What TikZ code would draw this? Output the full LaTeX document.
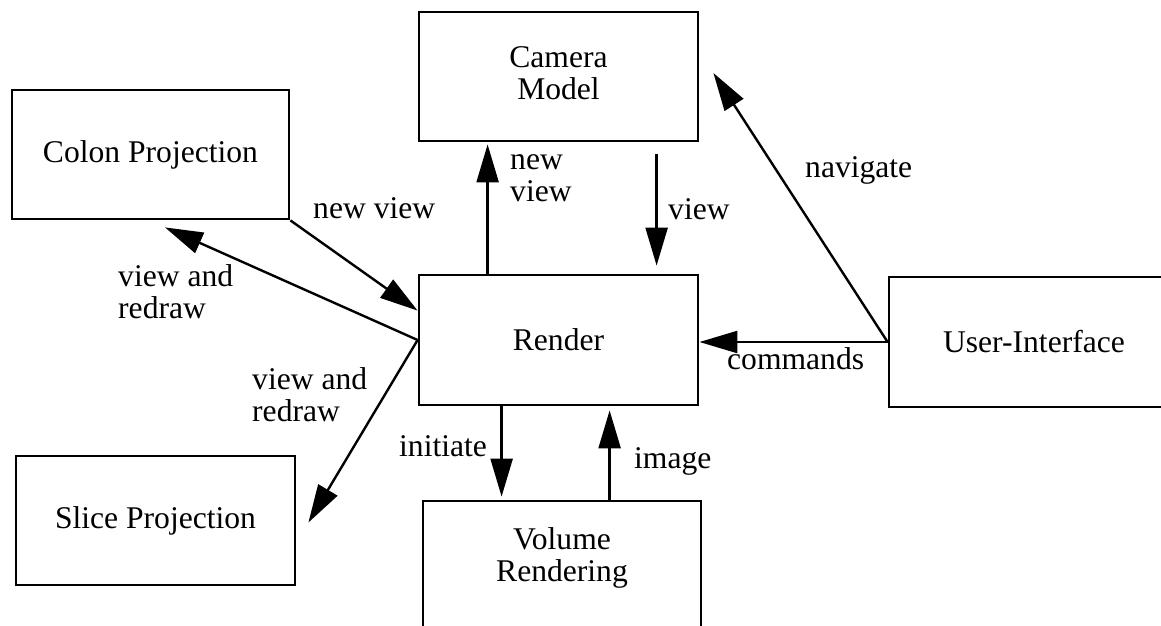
\documentclass[tikz,border=0pt]{standalone}
\usepackage{fontspec}
\setmainfont{Liberation Serif}
\usetikzlibrary{arrows.meta,calc}
\newcommand\figfs{\fontsize{31.6}{32}\selectfont}
\begin{document}
\begin{tikzpicture}[x=1pt,y=-1pt,
  box/.style={draw, line width=2.8pt, rectangle, inner sep=0pt, align=center, font=\figfs},
  lbl/.style={inner sep=0pt, align=left, font=\figfs, anchor=base west},
  conn/.style={line width=2.4pt, -{Triangle[length=38pt,width=22pt]}},
]
\clip (0,0) rectangle (1161,625);
% boxes
\node[box, minimum width=277, minimum height=129] (colon) at (150.5,154.5) {Colon Projection};
\node[box, minimum width=279, minimum height=129, text depth=6pt] (camera) at (558.5,76.5) {Camera\\Model};
\node[box, minimum width=279, minimum height=130] (render) at (558.5,340) {Render};
\node[box, minimum width=290, minimum height=130] (ui) at (1034,342) {User-Interface};
\node[box, minimum width=279, minimum height=129] (slice) at (155.5,520.5) {Slice Projection};
\node[box, minimum width=278, minimum height=200] (vol) at (562,601) {};
\node[inner sep=0pt, align=center, font=\figfs] (voltext) at (562,558) {Volume\\Rendering};
% connectors
\draw[conn] (colon.south east) -- ($(render.north west)+(0,37)$);
\draw[conn] (render.west) -- ($(colon.south)+(14.5,7)$);
\draw[conn] (render.west) -- ($(slice.east)+(12,2)$);
\draw[conn] ($(render.north west)+(70,0)$) -- ($(camera.south west)+(70,2)$);
\draw[conn] ($(camera.south west)+(239,12)$) -- ($(render.north west)+(239,-8)$);
\draw[conn] ($(render.south west)+(84,0)$) -- ($(vol.north west)+(80,-3)$);
\draw[conn] ($(vol.north west)+(188,0)$) -- ($(render.south west)+(192,4)$);
\draw[conn] (ui.west) -- (ui.west -| render.east);
\draw[conn] (ui.west) -- ($(camera.east)+(14,-3.5)$);
% labels (base anchor = baseline of the last line)
\node[lbl] (l1) at (313,218) {new view};
\node[lbl] (l2) at (118,318) {view and\\redraw};
\node[lbl] (l3) at (252,421) {view and\\redraw};
\node[lbl] (l4) at (510,201) {new\\view};
\node[lbl] (l5) at (668,219) {view};
\node[lbl] (l6) at (805,177) {navigate};
\node[lbl] (l7) at (727,369) {commands};
\node[lbl] (l8) at (399,456) {initiate};
\node[lbl] (l9) at (634,468) {image};
\end{tikzpicture}
\end{document}
